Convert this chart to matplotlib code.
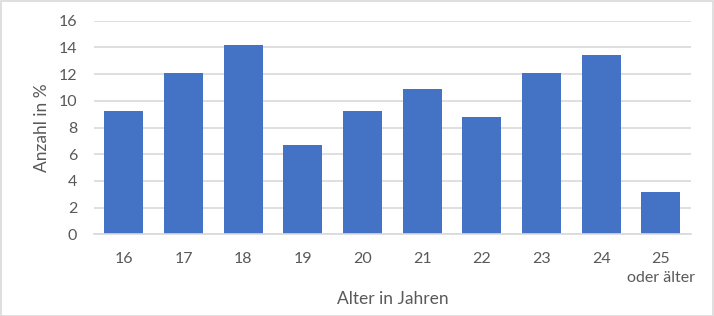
import matplotlib
matplotlib.use("Agg")
import matplotlib.pyplot as plt
from matplotlib.patches import Rectangle

categories = ["16", "17", "18", "19", "20", "21", "22", "23", "24", "25\noder älter"]
values = [9.2, 12.1, 14.2, 6.7, 9.2, 10.9, 8.8, 12.1, 13.4, 3.2]
yticks = [0, 2, 4, 6, 8, 10, 12, 14, 16]

plt.rcParams['font.family'] = ['Lato', 'DejaVu Sans']
text_color = "#595959"
grid_color = "#D9D9D9"
bar_color = "#4472C4"

W, H = 714, 316
fig = plt.figure(figsize=(W / 100, H / 100), dpi=100)
fig.patches.append(Rectangle((0.5 / W, 0.5 / H), 1 - 1.5 / W, 1 - 1.5 / H, transform=fig.transFigure,
                             fill=False, edgecolor=grid_color, linewidth=1.2))

ax = fig.add_axes([94 / W, 1 - 234.3 / H, (690.7 - 94) / W, (234.3 - 20.7) / H])
x = list(range(len(categories)))
ax.bar(x, values, width=0.65, color=bar_color, zorder=3)
ax.set_xlim(-0.5, len(categories) - 0.5)
ax.set_ylim(0, 16)
ax.set_yticks(yticks)
ax.set_yticklabels([str(t) for t in yticks])
ax.set_xticks(x)
ax.set_xticklabels(categories, linespacing=1.45)
ax.yaxis.grid(True, color=grid_color, linewidth=1.2, zorder=0)
for s in ["top", "right", "left"]:
    ax.spines[s].set_visible(False)
ax.spines["bottom"].set_color(grid_color)
ax.spines["bottom"].set_linewidth(1.2)
ax.spines["bottom"].set_zorder(4)
ax.tick_params(axis="both", length=0, labelsize=11.5, colors=text_color)
ax.tick_params(axis="y", pad=12)
ax.tick_params(axis="x", pad=13)
ax.set_xlabel("Alter in Jahren", fontsize=12.5, color=text_color, labelpad=4)
ax.set_ylabel("Anzahl in %", fontsize=12.5, color=text_color, labelpad=6)

fig.savefig("out.png", dpi=100)
